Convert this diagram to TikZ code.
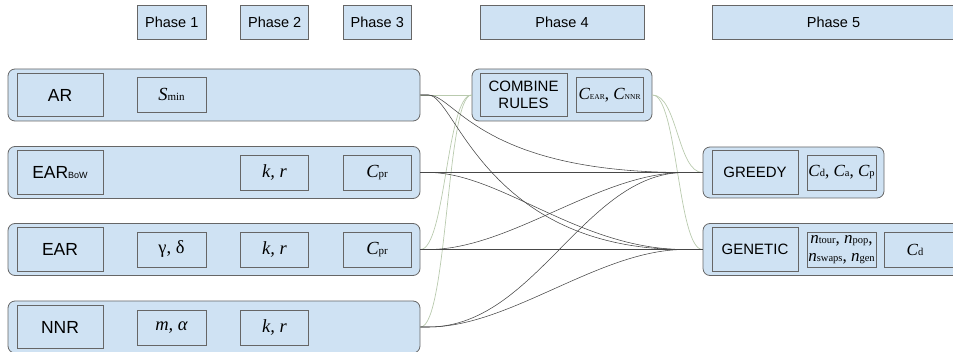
\documentclass[tikz,border=0pt]{standalone}
\usepackage{fontspec}
\setmainfont{Liberation Sans}
\newfontfamily\tmsfont{Liberation Serif}
\usetikzlibrary{calc}

\definecolor{boxfill}{HTML}{CFE2F3}
\definecolor{boxline}{HTML}{666666}
\definecolor{linkdark}{HTML}{474747}
\definecolor{linklight}{HTML}{B9CAAE}

% serif parameter symbols: large italic/upright, small subscripts set on the baseline
\newcommand\bigvar[1]{{\tmsfont\fontsize{18.5}{22}\selectfont\itshape #1}}
\newcommand\bigup[1]{{\tmsfont\fontsize{18.5}{22}\selectfont #1}}
\newcommand\midvar[1]{{\tmsfont\fontsize{17}{18}\selectfont\itshape #1}}
\newcommand\midup[1]{{\tmsfont\fontsize{17}{18}\selectfont #1}}
\newcommand\lowsub[1]{{\tmsfont\fontsize{11}{12}\selectfont #1}}
\newcommand\smallsub[1]{{\tmsfont\fontsize{10.5}{12}\selectfont #1}}
\newcommand\capsub[1]{{\tmsfont\fontsize{7.5}{9}\selectfont #1}}

\tikzset{
  wh/.style args={#1/#2}{minimum width=#1pt, minimum height=#2pt},
  plain/.style={draw=boxline, fill=boxfill, line width=0.8pt, inner sep=0pt, align=center},
  phase/.style={plain, font=\fontsize{14.5}{16}\selectfont},
  group/.style={plain, rounded corners=7pt},
  algo/.style={plain, font=\fontsize{17.5}{20}\selectfont},
  solver/.style={plain, font=\fontsize{15}{17.3}\selectfont},
  param/.style={plain},
  dk/.style={draw=linkdark, line width=0.55pt},
  lt/.style={draw=linklight, line width=0.7pt},
}

\begin{document}
\begin{tikzpicture}[x=1pt, y=-1pt]
\useasboundingbox (0,0) rectangle (953,352);

% phase headers
\node[phase, wh=69.5/34] (ph1) at (171.8,22) {Phase 1};
\node[phase, wh=68/34]   (ph2) at (274.7,22) {Phase 2};
\node[phase, wh=68/34]   (ph3) at (377.3,22) {Phase 3};
\node[phase, wh=164/34]  (ph4) at (562,22)   {Phase 4};
\node[phase, wh=243/34]  (ph5) at (833.5,22) {Phase 5};

% rule-mining rows
\node[group, wh=412/52] (ar)  at (214,95)    {};
\node[group, wh=412/52] (bow) at (214,172.5) {};
\node[group, wh=412/52] (ear) at (214,249.5) {};
\node[group, wh=412/52] (nnr) at (214,327)   {};

\node[algo, wh=86/43.5] (arL)  at (60,95)    {AR};
\node[algo, wh=86/43.5] (bowL) at (60,172.5) {EAR{\fontsize{9}{10}\selectfont BoW}};
\node[algo, wh=86/43.5] (earL) at (60,249.5) {EAR};
\node[algo, wh=86/43.5] (nnrL) at (60,327)   {NNR};

\node[param, wh=69/35] (arS)  at (171.5,94.7)  {\bigvar{S}\lowsub{min}};

\node[param, wh=68/35] (bowK) at (274.5,172.5) {\bigvar{k, r}};
\node[param, wh=68/35] (bowC) at (377,172.5)   {\bigvar{C}\lowsub{pr}};

\node[param, wh=69/35] (earG) at (171.5,249.5) {\bigup{γ, δ}};
\node[param, wh=68/35] (earK) at (274.5,249.5) {\bigvar{k, r}};
\node[param, wh=68/35] (earC) at (377,249.5)   {\bigvar{C}\lowsub{pr}};

\node[param, wh=69/35] (nnrM) at (171.5,327.5) {\bigvar{m, α}};
\node[param, wh=68/35] (nnrK) at (274.5,327.5) {\bigvar{k, r}};

% combination step
\node[group, wh=180/52] (comb) at (562,95) {};
\node[solver, wh=87/43.5] (combL) at (523.5,95) {COMBINE\\RULES};
\node[param, wh=67/35] (combC) at (609.5,94.7)
  {\midvar{C}\capsub{EAR}\midup{, }\midvar{C}\capsub{NNR}};

% selection step
\node[group, wh=181/51] (greedy) at (793.5,172.5) {};
\node[solver, wh=86/43.5] (greedyL) at (755,172.5) {GREEDY};
\node[param, wh=69/35] (greedyC) at (841.5,172.5)
  {\midvar{C}\smallsub{d}\midup{, }\midvar{C}\smallsub{a}\midup{, }\midvar{C}\smallsub{p}};

\node[group, wh=267/52] (genetic) at (836.5,249.5) {};
\node[solver, wh=86/43.5] (geneticL) at (755,249.5) {GENETIC};
\node[param, wh=69/35, font=\tmsfont\fontsize{17}{18}\selectfont] (geneticN) at (841.5,249.5)
  {\textit{n}\smallsub{tour}, \textit{n}\smallsub{pop},\\\textit{n}\smallsub{swaps}, \textit{n}\smallsub{gen}};
\node[param, wh=76/35] (geneticC) at (922,249.5) {};
\node[inner sep=0pt] (geneticCT) at (915,249.5) {\midvar{C}\smallsub{d}};

% connector end points just before the selection boxes
\coordinate (grIn) at ($(greedy.west)+(-18,0)$);
\coordinate (geIn) at ($(genetic.west)+(-18,0)$);

% light links through the combination step
\draw[lt] (ar.east) -- (comb.west);
\draw[lt] (ear.east) to[out=0,in=180,out distance=25pt,in distance=25pt] (comb.west);
\draw[lt] (nnr.east) to[out=0,in=180,out distance=27pt,in distance=25pt] (comb.west);
\draw[lt] (comb.east) to[out=0,in=180,out distance=25pt,in distance=25pt] (greedy.west);
\draw[lt] (comb.east) to[out=0,in=180,out distance=25pt,in distance=25pt] (genetic.west);

% dark links from each rule set to each selection method
\draw[dk] (ar.east) -- ++(8,0) to[out=0,in=180,out distance=27pt,in distance=205pt] (grIn) -- (greedy.west);
\draw[dk] (ar.east) -- ++(8,0) to[out=0,in=180,out distance=27pt,in distance=200pt] (geIn) -- (genetic.west);
\draw[dk] (bow.east) -- (greedy.west);
\draw[dk] (bow.east) -- ++(8,0) to[out=0,in=180,out distance=72pt,in distance=105pt] (geIn) -- (genetic.west);
\draw[dk] (ear.east) -- ++(8,0) to[out=0,in=180,out distance=82pt,in distance=85pt] (grIn) -- (greedy.west);
\draw[dk] (ear.east) -- (genetic.west);
\draw[dk] (nnr.east) -- ++(8,0) to[out=0,in=180,out distance=107pt,in distance=100pt] (grIn) -- (greedy.west);
\draw[dk] (nnr.east) -- ++(8,0) to[out=0,in=180,out distance=82pt,in distance=85pt] (geIn) -- (genetic.west);
\end{tikzpicture}
\end{document}
